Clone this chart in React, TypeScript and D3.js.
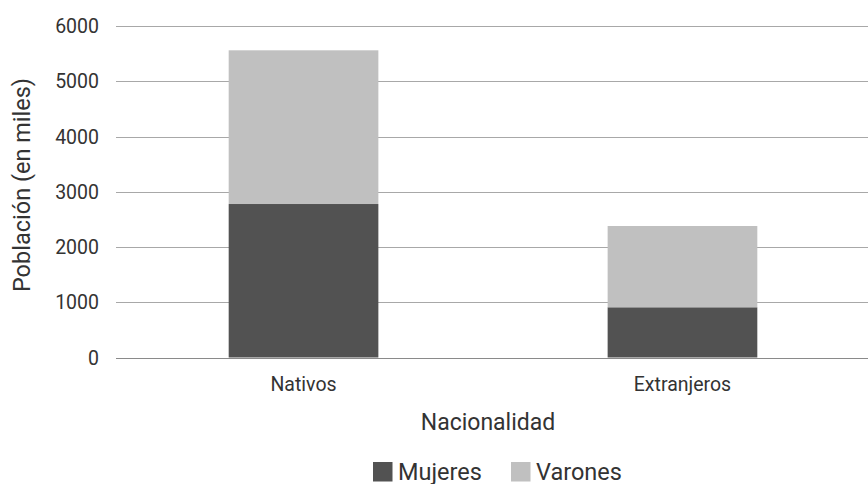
import { useEffect, useRef } from "react";
import * as d3 from "d3";

const categories = ["Nativos", "Extranjeros"];
const seriesNames = ["Mujeres", "Varones"];
const mujeres = [2778, 909];
const varones = [2782, 1471];
const yTicks = [0, 1000, 2000, 3000, 4000, 5000, 6000];

const COLORS = ["#525252", "#c0c0c0"];
const FONT = "Roboto, 'Noto Sans', sans-serif";

export default function App() {
  const ref = useRef<SVGSVGElement | null>(null);

  useEffect(() => {
    if (!ref.current) return;
    const width = 868;
    const height = 484;
    const svg = d3.select(ref.current);
    svg.selectAll("*").remove();

    const x = d3.scaleBand<string>().domain(categories).range([115, 871]).paddingInner(0.605).paddingOuter(0.3);
    const y = d3.scaleLinear().domain([0, 6000]).range([357.5, 26]);

    // grid
    svg
      .append("g")
      .selectAll("line")
      .data(yTicks)
      .join("line")
      .attr("x1", 116)
      .attr("x2", width)
      .attr("y1", (d) => Math.round(y(d)) + 0.5)
      .attr("y2", (d) => Math.round(y(d)) + 0.5)
      .attr("stroke", (d) => (d === 0 ? "#8a8a8a" : "#a8a8a8"))
      .attr("stroke-width", 1);

    svg
      .append("g")
      .selectAll("text")
      .data(yTicks)
      .join("text")
      .attr("x", 99)
      .attr("y", (d) => y(d))
      .attr("dy", "0.36em")
      .attr("text-anchor", "end")
      .attr("font-family", FONT)
      .attr("font-size", 19.5)
      .attr("fill", "#333")
      .text((d) => d);

    const stacked = d3.stack<number>().keys(["0", "1"]).value((i, k) => (k === "0" ? mujeres[i] : varones[i]))(
      categories.map((_, i) => i)
    );

    stacked.forEach((layer, li) => {
      svg
        .append("g")
        .selectAll("rect")
        .data(layer)
        .join("rect")
        .attr("x", (d) => x(categories[d.data])!)
        .attr("width", x.bandwidth())
        .attr("y", (d) => y(d[1]))
        .attr("height", (d) => y(d[0]) - y(d[1]))
        .attr("fill", COLORS[li]);
    });

    svg
      .append("g")
      .selectAll("text")
      .data(categories)
      .join("text")
      .attr("x", (d) => x(d)! + x.bandwidth() / 2)
      .attr("y", 391)
      .attr("text-anchor", "middle")
      .attr("font-family", FONT)
      .attr("font-size", 19.5)
      .attr("fill", "#333")
      .text((d) => d);

    svg
      .append("text")
      .attr("x", 488)
      .attr("y", 430)
      .attr("text-anchor", "middle")
      .attr("font-family", FONT)
      .attr("font-size", 23)
      .attr("fill", "#333")
      .text("Nacionalidad");

    svg
      .append("text")
      .attr("transform", "translate(30,185) rotate(-90)")
      .attr("text-anchor", "middle")
      .attr("font-family", FONT)
      .attr("font-size", 23.5)
      .attr("fill", "#333")
      .text("Población (en miles)");

    const legendX = [373, 511];
    const lg = svg
      .append("g")
      .selectAll("g")
      .data(seriesNames)
      .join("g")
      .attr("transform", (_, i) => `translate(${legendX[i]},462)`);
    lg.append("rect").attr("width", 19.5).attr("height", 19.5).attr("fill", (_, i) => COLORS[i]);
    lg.append("text")
      .attr("x", 25)
      .attr("y", 17.5)
      .attr("font-family", FONT)
      .attr("font-size", 23.5)
      .attr("fill", "#333")
      .text((d) => d);

    svg.attr("width", width).attr("height", height);
  }, []);

  return (
    <div style={{ position: "absolute", left: 0, top: 0 }}>
      <svg ref={ref} width={868} height={484} style={{ display: "block", background: "#fff" }} />
    </div>
  );
}
